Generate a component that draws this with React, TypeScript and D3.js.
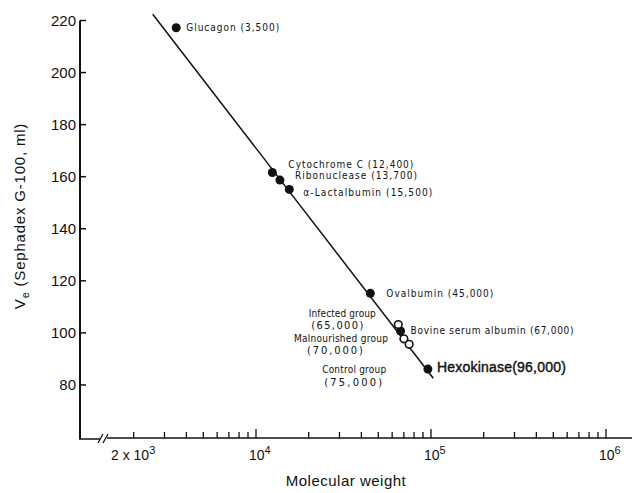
import React from 'react';
import * as d3 from 'd3';

// standards and study groups: molecular weight vs elution volume
const proteinNames = ['Glucagon', 'Cytochrome C', 'Ribonuclease', 'a-Lactalbumin', 'Ovalbumin', 'Bovine serum albumin', 'Hexokinase'];
const proteinMW = [3500, 12400, 13700, 15500, 45000, 67000, 96000];
const proteinVe = [217.2, 161.6, 158.7, 155.1, 115.2, 100.7, 86.1];
const proteinLabels = ['Glucagon (3,500)', 'Cytochrome C (12,400)', 'Ribonuclease (13,700)', '\u03b1-Lactalbumin (15,500)', 'Ovalbumin (45,000)', 'Bovine serum albumin (67,000)', 'Hexokinase(96,000)'];

const groupNames = ['Infected group', 'Malnourished group', 'Control group'];
const groupMW = [65000, 70000, 75000];
const groupVe = [103.2, 97.7, 95.6];
const groupMWLabels = ['(65,000)', '(70,000)', '(75,000)'];

// fitted line end points
const fitMW = [2570, 103000];
const fitVe = [222.4, 82.6];

const yTicks = [80, 100, 120, 140, 160, 180, 200, 220];
const xTicks = [2000, 3000, 4000, 5000, 6000, 7000, 8000, 9000,
  10000, 20000, 30000, 40000, 50000, 60000, 70000, 80000, 90000,
  100000, 200000, 300000, 400000, 500000, 600000, 700000, 800000, 900000, 1000000];
const xMajor = [10000, 100000, 1000000];

// label placement (dx, dy from the point, text width)
const protLayout: Record<string, [number, number, number]> = {
  'Glucagon': [10, 3, 93],
  'Cytochrome C': [16, -5, 125],
  'Ribonuclease': [15, -1.5, 122],
  'a-Lactalbumin': [14, 7, 129],
  'Ovalbumin': [16, 4, 107],
  'Bovine serum albumin': [10, 3, 163],
  'Hexokinase': [9, 3, 129],
};
const groupLayout: Record<string, [number, number, number, number, number, number]> = {
  // dx1, dy1, w1, dx2, dy2, w2 (centres)
  'Infected group': [-56, -8, 67, -61, 4, 52],
  'Malnourished group': [-63, 3, 94, -69, 15, 56],
  'Control group': [-55, 29, 64, -56, 42, 58],
};

const W = 632;
const H = 493;
const axisX = 80;
const axisY = 438;

const labelFont = '"DejaVu Sans Condensed", "DejaVu Sans", sans-serif';
const axisFont = '"Liberation Sans", Arial, sans-serif';

export default function App() {
  const x = d3.scaleLog().domain([1e4, 1e6]).range([256, 606]);
  const y = d3.scaleLinear().domain([60, 220]).range([437, 20.5]);

  const line = d3.line<number>()
    .x((d, i) => x(fitMW[i]))
    .y((d, i) => y(fitVe[i]));

  return (
    <svg width={W} height={H} style={{ position: 'absolute', left: 0, top: 0, background: '#fff' }}>
      {/* y axis */}
      <line x1={axisX} x2={axisX} y1={y(220)} y2={axisY + 1} stroke="#111" strokeWidth={2} />
      {yTicks.map(t => (
        <g key={t}>
          <line x1={axisX} x2={axisX + 6} y1={y(t)} y2={y(t)} stroke="#111" strokeWidth={1.5} />
          <text x={axisX - 4} y={y(t) + 5} textAnchor="end" fontFamily={axisFont} fontSize={15} fill="#111">{t}</text>
        </g>
      ))}
      <text transform={`translate(25,${216}) rotate(-90)`} textAnchor="middle" fontFamily={axisFont} fontSize={15}
        letterSpacing={0.8} fill="#111">
        V<tspan fontSize={11} dy={4}>e</tspan><tspan dy={-4}> (Sephadex G-100, ml)</tspan>
      </text>

      {/* x axis with break */}
      <line x1={axisX - 1} x2={100} y1={axisY + 1} y2={axisY + 1} stroke="#111" strokeWidth={1.5} />
      <line x1={107} x2={W} y1={axisY} y2={axisY} stroke="#111" strokeWidth={1.5} />
      <line x1={98} x2={103} y1={443} y2={434} stroke="#111" strokeWidth={1.3} />
      <line x1={103} x2={108} y1={443} y2={434} stroke="#111" strokeWidth={1.3} />
      {xTicks.map(t => (
        <line key={t} x1={x(t)} x2={x(t)} y1={axisY} y2={axisY - (xMajor.includes(t) ? 9 : 6)} stroke="#111" strokeWidth={1.3} />
      ))}
      <text x={111} y={460} fontFamily={axisFont} fontSize={14} fill="#111">
        2 x 10<tspan fontSize={11} dy={-6}>3</tspan>
      </text>
      {xMajor.map(t => (
        <text key={t} x={x(t) - 7} y={460} fontFamily={axisFont} fontSize={14} fill="#111">
          10<tspan fontSize={11} dy={-6}>{Math.round(Math.log10(t))}</tspan>
        </text>
      ))}
      <text x={346} y={486} textAnchor="middle" fontFamily={axisFont} fontSize={15} letterSpacing={0.5} fill="#111">Molecular weight</text>

      {/* fitted line */}
      <path d={line([0, 1]) || ''} fill="none" stroke="#111" strokeWidth={1.5} />

      {/* standards */}
      {proteinNames.map((n, i) => {
        const px = x(proteinMW[i]);
        const py = y(proteinVe[i]);
        const [dx, dy, w] = protLayout[n];
        const big = n === 'Hexokinase';
        return (
          <g key={n}>
            <circle cx={px} cy={py} r={4.5} fill="#111" />
            <text x={px + dx} y={py + dy} fontFamily={big ? axisFont : labelFont} fontSize={big ? 14 : 10}
              stroke={big ? '#111' : 'none'} strokeWidth={big ? 0.4 : 0}
              textLength={w} lengthAdjust="spacing" fill="#111">{proteinLabels[i]}</text>
          </g>
        );
      })}

      {/* study groups */}
      {groupNames.map((n, i) => {
        const px = x(groupMW[i]);
        const py = y(groupVe[i]);
        const [dx1, dy1, w1, dx2, dy2, w2] = groupLayout[n];
        return (
          <g key={n}>
            <circle cx={px} cy={py} r={3.8} fill="#fff" stroke="#111" strokeWidth={1.6} />
            <text x={px + dx1} y={py + dy1} textAnchor="middle" fontFamily={labelFont} fontSize={10}
              textLength={w1} lengthAdjust="spacing" fill="#111">{n}</text>
            <text x={px + dx2} y={py + dy2} textAnchor="middle" fontFamily={labelFont} fontSize={11}
              textLength={w2} lengthAdjust="spacing" fill="#111">{groupMWLabels[i]}</text>
          </g>
        );
      })}
    </svg>
  );
}
